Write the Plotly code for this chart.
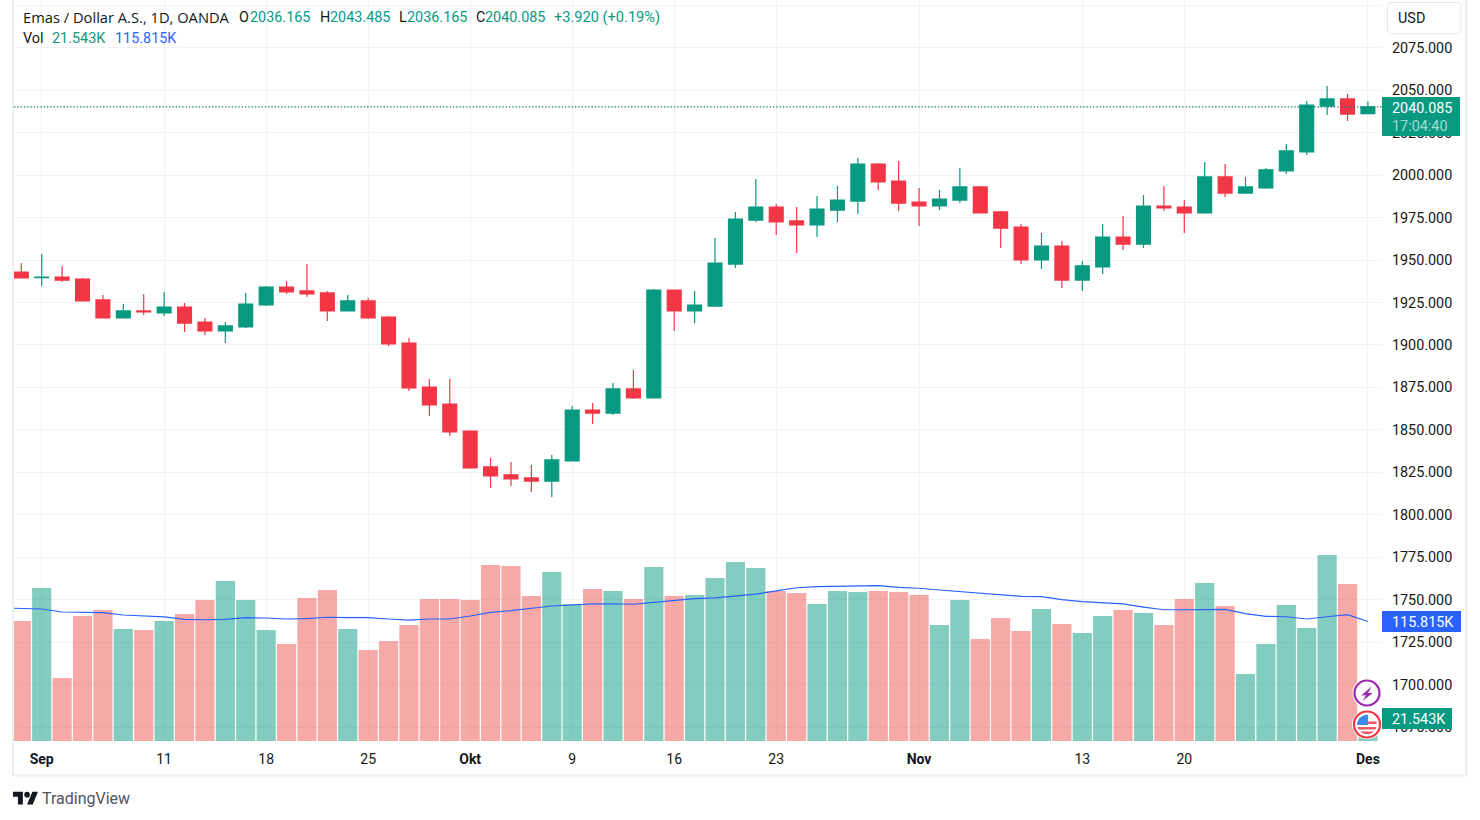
import math
import pandas as pd
import plotly.graph_objects as go

W, H = 1480, 820
FONT = "Roboto"
WIDE_FONT = "Open Sans"
UP = "#089981"
DOWN = "#F23645"
TEXT = "#131722"
GRID = "#f0f2f6"

# daily bars, 31 Aug - 1 Dec 2023
days = pd.bdate_range("2023-08-31", "2023-12-01")

opens = [1942.9, 1939.6, 1940.0, 1938.8, 1926.5, 1915.9, 1920.0, 1918.8, 1922.3, 1913.5,
         1908.2, 1910.6, 1923.5, 1934.1, 1931.8, 1930.6, 1920.0, 1925.9, 1916.4, 1901.1,
         1875.2, 1865.2, 1849.3, 1828.2, 1823.5, 1821.7, 1819.9, 1831.7, 1861.7, 1859.9,
         1874.1, 1868.8, 1932.3, 1920.0, 1922.9, 1947.6, 1973.5, 1981.2, 1973.0, 1970.6,
         1979.4, 1984.7, 2006.5, 1996.5, 1984.1, 1981.8, 1985.3, 1993.0, 1978.3, 1969.4,
         1950.0, 1958.2, 1938.2, 1945.9, 1963.5, 1959.4, 1981.8, 1981.2, 1977.7, 1998.9,
         1989.4, 1992.4, 2002.4, 2013.6, 2040.6, 2044.8, 2036.165]
highs = [1948.2, 1953.5, 1946.5, 1939.4, 1929.4, 1924.1, 1930.0, 1931.2, 1924.7, 1915.9,
         1913.5, 1930.6, 1934.7, 1937.6, 1947.6, 1931.8, 1929.4, 1927.6, 1917.0, 1904.1,
         1880.0, 1880.0, 1849.3, 1833.5, 1831.1, 1829.3, 1835.2, 1864.1, 1865.8, 1877.6,
         1885.3, 1932.9, 1932.3, 1931.8, 1962.9, 1978.3, 1997.7, 1983.0, 1981.2, 1987.7,
         1993.6, 2010.0, 2007.1, 2008.3, 1992.4, 1991.2, 2004.2, 1993.6, 1978.8, 1971.2,
         1965.9, 1961.2, 1949.4, 1971.2, 1975.9, 1988.3, 1993.6, 1985.3, 2007.7, 2006.5,
         1998.9, 2004.2, 2018.3, 2043.6, 2052.4, 2047.7, 2043.485]
lows = [1939.4, 1934.9, 1937.1, 1925.9, 1915.9, 1915.9, 1917.6, 1917.0, 1907.6, 1905.9,
        1901.1, 1910.0, 1922.9, 1930.0, 1928.2, 1914.1, 1920.0, 1915.3, 1899.4, 1872.9,
        1858.2, 1846.4, 1827.6, 1815.8, 1817.0, 1813.4, 1810.5, 1831.7, 1853.5, 1858.8,
        1868.2, 1868.8, 1908.2, 1912.9, 1922.9, 1945.3, 1972.4, 1964.7, 1954.1, 1963.5,
        1972.4, 1977.1, 1991.2, 1978.8, 1970.0, 1979.4, 1983.5, 1977.7, 1957.1, 1947.6,
        1944.7, 1933.5, 1931.8, 1941.8, 1955.9, 1957.1, 1978.8, 1965.9, 1977.7, 1987.1,
        1989.4, 1991.8, 2000.6, 2011.8, 2035.3, 2031.8, 2036.165]
closes = [1939.4, 1940.0, 1938.2, 1925.9, 1915.9, 1920.0, 1919.4, 1922.3, 1912.9, 1908.2,
          1911.2, 1924.1, 1934.1, 1931.2, 1930.0, 1920.0, 1925.9, 1915.9, 1900.6, 1874.7,
          1864.7, 1848.8, 1827.6, 1822.9, 1821.1, 1819.9, 1832.3, 1861.7, 1859.9, 1874.1,
          1868.8, 1932.3, 1920.0, 1923.5, 1948.2, 1974.1, 1981.2, 1972.4, 1970.6, 1980.0,
          1985.3, 2006.5, 1995.9, 1983.5, 1981.8, 1985.9, 1993.0, 1977.7, 1968.8, 1950.0,
          1958.2, 1938.2, 1946.5, 1963.5, 1959.4, 1981.8, 1980.6, 1977.7, 1998.9, 1989.4,
          1993.0, 2003.0, 2014.2, 2041.2, 2044.8, 2035.9, 2040.085]

# volume in thousands
volume = [116.3, 148.3, 61.0, 121.1, 126.9, 108.5, 107.6, 116.3, 123.1, 136.6,
          155.0, 136.6, 107.6, 94.0, 138.6, 146.3, 108.5, 88.2, 96.9, 112.4,
          137.6, 137.6, 136.6, 170.5, 169.6, 140.5, 163.8, 132.8, 147.3, 145.4,
          137.6, 168.6, 140.5, 141.5, 157.9, 173.5, 167.6, 145.4, 143.4, 132.8,
          145.4, 144.4, 145.4, 144.4, 141.5, 112.4, 136.6, 98.8, 119.2, 106.6,
          127.9, 113.4, 104.7, 121.1, 126.9, 124.0, 112.4, 137.6, 153.1, 130.8,
          64.9, 94.0, 131.8, 109.5, 180.2, 152.1, 21.543]
# first value is the day before the visible range, the line runs in from the left edge
volume_ma = [129.0, 128.6, 127.9, 125.0, 124.3, 124.3, 122.1, 121.1, 120.2, 117.9, 117.5,
             117.9, 119.5, 119.2, 118.2, 118.5, 119.9, 119.5, 119.5, 118.2, 117.2,
             118.2, 118.2, 121.1, 124.7, 126.3, 128.2, 130.8, 131.8, 132.8, 133.0,
             132.5, 134.4, 135.9, 137.9, 138.6, 140.2, 142.4, 145.4, 148.5, 149.5,
             149.9, 150.2, 150.5, 148.9, 148.0, 146.3, 144.7, 143.1, 142.2, 140.2,
             139.8, 136.9, 135.0, 134.0, 132.8, 129.8, 127.2, 127.2, 127.4, 127.6,
             123.4, 120.8, 120.4, 118.2, 120.4, 122.4, 115.815]

tick_dates = ["2023-09-01", "2023-09-11", "2023-09-18", "2023-09-25", "2023-10-02", "2023-10-09",
              "2023-10-16", "2023-10-23", "2023-11-01", "2023-11-13", "2023-11-20", "2023-12-01"]
tick_labels = ["<b>Sep</b>", "11", "18", "25", "<b>Okt</b>", "9", "16", "23", "<b>Nov</b>", "13", "20", "<b>Des</b>"]
price_ticks = [1675, 1700, 1725, 1750, 1775, 1800, 1825, 1850, 1875, 1900, 1925,
               1950, 1975, 2000, 2025, 2050, 2075, 2100]


def px(x):
    return x / W


def py(y):
    return 1 - y / H


def poly(points):
    return "M" + " L".join(f"{px(x):.5f},{py(y):.5f}" for x, y in points) + " Z"


def rect(x0, y0, x1, y1, color):
    return dict(type="rect", xref="paper", yref="paper", x0=px(x0), x1=px(x1), y0=py(y0), y1=py(y1),
                fillcolor=color, line=dict(color=color, width=0), layer="above")


def round_rect(x0, y0, x1, y1, r, fill, line):
    p = lambda x, y: f"{px(x):.5f},{py(y):.5f}"
    path = (f"M{p(x0 + r, y0)} L{p(x1 - r, y0)} Q{p(x1, y0)} {p(x1, y0 + r)} L{p(x1, y1 - r)} Q{p(x1, y1)} {p(x1 - r, y1)} "
            f"L{p(x0 + r, y1)} Q{p(x0, y1)} {p(x0, y1 - r)} L{p(x0, y0 + r)} Q{p(x0, y0)} {p(x0 + r, y0)} Z")
    return dict(type="path", xref="paper", yref="paper", path=path, fillcolor=fill,
                line=dict(color=line, width=1), layer="above")


def circle(cx, cy, r, fill, line, lw):
    return dict(type="circle", xref="paper", yref="paper", x0=px(cx - r), x1=px(cx + r), y0=py(cy + r), y1=py(cy - r),
                fillcolor=fill, line=dict(color=line, width=lw), layer="above")


def label(x, y, text, color=TEXT, size=14.4, family=FONT):
    # annotations carry about 2px of padding, pull them back
    return dict(xref="paper", yref="paper", x=px(x - 2), y=py(y), text=text, showarrow=False, xanchor="left",
                yanchor="middle", font=dict(family=family, size=size, color=color))


def shape_path(path, color):
    return dict(type="path", xref="paper", yref="paper", path=path, fillcolor=color, line=dict(width=0), layer="above")


def flag_band(cx, cy, r, y0, y1, color, x_stop=None):
    # slice of the round flag between two heights
    pts_l, pts_r = [], []
    for k in range(7):
        y = y0 + (y1 - y0) * k / 6
        half = math.sqrt(max(r * r - (y - cy) ** 2, 0))
        pts_l.append((cx - half, y))
        pts_r.append((x_stop if x_stop else cx + half, y))
    return shape_path(poly(pts_l + pts_r[::-1]), color)


x_idx = list(range(len(days)))
ma_x = [-1] + x_idx
bar_colors = ["rgba(8,153,129,0.5)" if c >= o else "rgba(239,83,80,0.5)" for o, c in zip(opens, closes)]

fig = go.Figure()
fig.add_trace(go.Bar(x=x_idx, y=volume, marker=dict(color=bar_colors, line=dict(width=0)), yaxis="y2"))
fig.add_trace(go.Scatter(x=ma_x, y=volume_ma, mode="lines", line=dict(color="#2962FF", width=1.2), yaxis="y2"))
fig.add_trace(go.Candlestick(
    x=x_idx, open=opens, high=highs, low=lows, close=closes,
    increasing=dict(line=dict(color=UP, width=1.2), fillcolor=UP),
    decreasing=dict(line=dict(color=DOWN, width=1.2), fillcolor=DOWN),
))

shapes = [
    # price line of the last close
    dict(type="line", xref="paper", yref="y", x0=px(14), x1=px(1382), y0=closes[-1], y1=closes[-1],
         line=dict(color="#06705f", width=1.3, dash="1.3px,2px"), layer="above"),
    # chart frame
    rect(12, 0, 14, 776, "#eceef4"),
    rect(1465, 0, 1467.5, 776, "#eceef4"),
    rect(12, 774.5, 1467.5, 776.5, "#eceef4"),
    # USD button
    round_rect(1387.5, 2.5, 1461, 34, 4, "#ffffff", "#e6e8ef"),
    # value labels on the price scale
    rect(1382, 97, 1460, 136, UP),
    rect(1382, 611, 1461, 632, "#2962FF"),
    rect(1382, 708, 1452, 729, UP),
    # lightning badge
    circle(1367, 693, 14.5, "#ffffff", "#ffffff", 0),
    circle(1367, 693, 12.5, "#ffffff", "#9c27b0", 2.2),
    shape_path(poly([(1371.5, 686.5), (1361.2, 695.5), (1366, 695.2), (1362.6, 700.8), (1372.8, 692.9), (1368, 692.9)]),
               "#9c27b0"),
    # flag badge
    circle(1367, 724.5, 15, "#ffffff", "#ffffff", 0),
    circle(1367, 724.5, 13, "#ffffff", DOWN, 2.2),
]
for y0, y1 in [(721.5, 724), (727, 729.5), (731.5, 734)]:
    shapes.append(flag_band(1367, 724.5, 9.8, y0, y1, "#f0575f"))
shapes.append(flag_band(1367, 724.5, 9.8, 714.8, 725, "#3d8be8", x_stop=1368))
# TradingView logo, scaled from its 36x28 drawing
lg = 0.704
lx, ly = 13, 789
logo = [[(14, 22), (7, 22), (7, 11), (0, 11), (0, 4), (14, 4)], [(28, 22), (20, 22), (27.5, 4), (35.5, 4)]]
for part in logo:
    shapes.append(shape_path(poly([(lx + a * lg, ly + b * lg) for a, b in part]), TEXT))
shapes.append(circle(lx + 20 * lg, ly + 8 * lg, 4 * lg, TEXT, TEXT, 0))

annotations = [
    label(23, 17, "Emas / Dollar A.S., 1D, OANDA", size=14.7, family=WIDE_FONT),
    label(239, 17, "O"), label(250, 17, "2036.165", UP),
    label(320, 17, "H"), label(330, 17, "2043.485", UP),
    label(399, 17, "L"), label(407, 17, "2036.165", UP),
    label(476, 17, "C"), label(485, 17, "2040.085", UP),
    label(554, 17, "+3.920 (+0.19%)", UP, size=14.6),
    label(23, 38, "Vol"), label(52, 38, "21.543K", UP), label(115, 38, "115.815K", "#2962FF"),
    label(1398, 18, "USD"),
    label(1392, 108, "2040.085", "#ffffff"),
    label(1392, 126, "17:04:40", "rgba(255,255,255,0.65)"),
    label(1392, 622, "115.815K", "#ffffff"),
    label(1392, 719, "21.543K", "#ffffff"),
    label(42, 798, "TradingView", "#50535e", 16),
]

fig.update_layout(
    width=W, height=H, autosize=False,
    margin=dict(l=0, r=0, t=0, b=0),
    paper_bgcolor="#ffffff", plot_bgcolor="#ffffff",
    showlegend=False, bargap=0.06, boxgap=0.32, boxgroupgap=0,
    font=dict(family=FONT, size=14, color=TEXT),
    xaxis=dict(domain=[px(14), px(1382)], range=[-0.358, 66.69],
               tickmode="array", tickvals=[days.get_loc(pd.Timestamp(d)) for d in tick_dates], ticktext=tick_labels,
               showgrid=True, gridcolor=GRID, gridwidth=1, zeroline=False, showline=False,
               ticks="outside", ticklen=5, tickcolor="rgba(0,0,0,0)",
               rangeslider=dict(visible=False), tickfont=dict(family=FONT, size=14, color=TEXT)),
    yaxis=dict(domain=[py(741), 1], range=[1666.88, 2103.04], side="right",
               tickmode="array", tickvals=price_ticks, ticktext=[f"{v}.000" for v in price_ticks],
               showgrid=True, gridcolor=GRID, gridwidth=1, zeroline=False, showline=False,
               ticks="outside", ticklen=6, tickcolor="rgba(0,0,0,0)",
               tickfont=dict(family=FONT, size=14.4, color=TEXT)),
    yaxis2=dict(domain=[py(741), 1], range=[0, 718], overlaying="y", visible=False),
    shapes=shapes, annotations=annotations,
)

fig.write_html("out.html", config=dict(displayModeBar=False),
               post_script="document.body.style.margin='0';document.body.style.overflow='hidden';")
